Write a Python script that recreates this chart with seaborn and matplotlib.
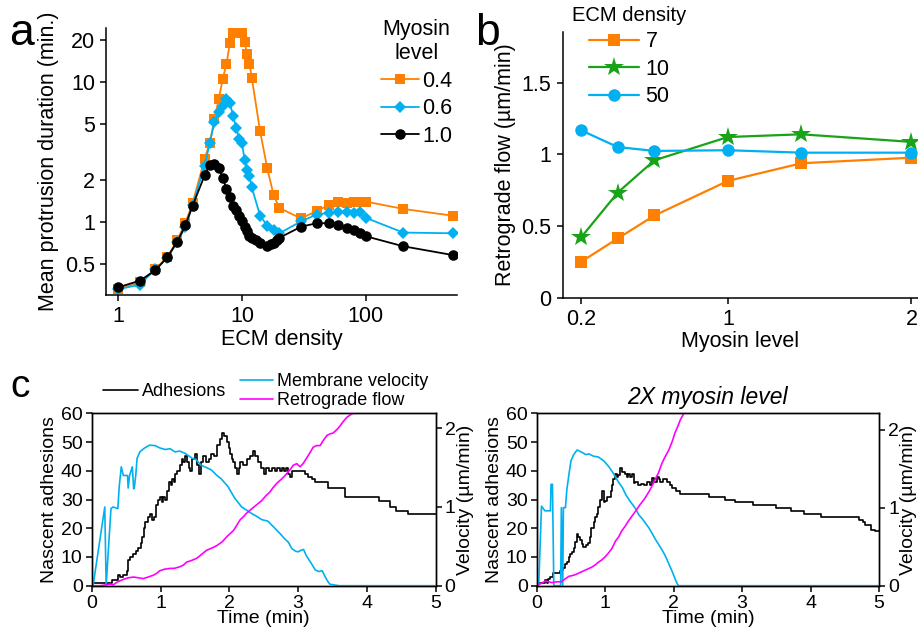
import matplotlib
matplotlib.use("Agg")
import matplotlib.pyplot as plt
import seaborn as sns

# ---- panel a: mean protrusion duration vs ECM density ----
ecm_a = [1, 1.5, 2, 2.5, 3, 3.5, 4, 5, 5.5, 6, 6.5, 7, 7.5, 8, 8.5, 9, 9.5, 10,
         10.5, 11, 11.5, 12, 14, 16, 18, 20, 30, 40, 50, 60, 70, 80, 90, 100, 200, 500]
dur_04 = [0.33, 0.37, 0.46, 0.56, 0.74, 0.99, 1.37, 2.83, 3.7, 5.5, 7.6, 10.6, 13.6, 19.2,
          22.7, 23.5, 23.8, 22.5, 19.5, 16.0, 13.5, 10.8, 4.47, 2.42, 1.56, 1.26, 1.06, 1.2,
          1.32, 1.40, 1.36, 1.38, 1.40, 1.40, 1.24, 1.11]
dur_06 = [0.33, 0.355, 0.46, 0.55, 0.72, 0.92, 1.33, 2.53, 3.68, 5.18, 6.1, 6.8, 7.6, 7.07,
          5.7, 4.72, 3.94, 3.65, 2.8, 2.34, 2.12, 1.77, 1.11, 0.94, 0.87, 0.83, 1.01, 1.13,
          1.16, 1.17, 1.18, 1.16, 1.18, 1.07, 0.84, 0.83]
ecm_a_10 = [1, 1.5, 2, 2.5, 3, 3.5, 4, 5, 5.5, 6, 6.5, 7, 7.5, 8, 8.5, 9, 9.5, 10, 10.5,
            11, 11.5, 12, 13, 14, 16, 17, 18, 19, 20, 30, 40, 50, 60, 70, 80, 90, 100, 200, 500]
dur_10 = [0.34, 0.38, 0.45, 0.56, 0.72, 0.95, 1.31, 2.16, 2.55, 2.62, 2.44, 2.07, 1.72, 1.51,
          1.31, 1.22, 1.10, 1.01, 0.92, 0.86, 0.80, 0.77, 0.74, 0.71, 0.675, 0.69, 0.71, 0.74,
          0.77, 0.925, 0.98, 0.98, 0.95, 0.91, 0.87, 0.83, 0.79, 0.67, 0.58]

# ---- panel b: retrograde flow vs myosin level ----
myosin_b = [0.2, 0.4, 0.6, 1.0, 1.4, 2.0]
flow_7 = [0.25, 0.413, 0.573, 0.814, 0.937, 0.976]
flow_10 = [0.42, 0.733, 0.958, 1.12, 1.139, 1.086]
flow_50 = [1.167, 1.05, 1.023, 1.028, 1.011, 1.011]

# ---- panel c (left): normal myosin ----
adh1_t = [0, 0.3, 0.34, 0.38, 0.41, 0.46, 0.51, 0.53, 0.56, 0.6, 0.64, 0.68, 0.71, 0.73,
          0.76, 0.78, 0.82, 0.85, 0.88, 0.9, 0.94, 0.97, 0.99, 1.02, 1.04, 1.07, 1.09, 1.12,
          1.15, 1.17, 1.19, 1.21, 1.24, 1.28, 1.31, 1.33, 1.36, 1.38, 1.41, 1.43, 1.46, 1.5,
          1.53, 1.56, 1.59, 1.62, 1.66, 1.7, 1.74, 1.78, 1.82, 1.86, 1.9, 1.93, 1.96, 1.99,
          2.01, 2.04, 2.06, 2.09, 2.11, 2.14, 2.16, 2.2, 2.25, 2.3, 2.35, 2.38, 2.42, 2.46,
          2.5, 2.54, 2.58, 2.62, 2.66, 2.69, 2.73, 2.77, 2.8, 2.83, 2.86, 2.88, 2.91, 2.93,
          3.1, 3.15, 3.2, 3.25, 3.44, 3.68, 4.17, 4.34, 4.43, 4.6, 5.0]
adh1_n = [1, 2, 2, 3.7, 3, 3.7, 5, 9, 10, 11, 12, 13, 15, 17,
          20, 22, 24, 25, 23, 24, 28, 30, 31, 29, 31, 30, 33, 36,
          35, 37, 36, 39, 40, 42, 44, 43, 45, 43, 41, 40, 44, 46,
          42, 39, 43, 45, 43, 44, 46, 45, 49, 51, 53, 52, 50, 48,
          46, 44, 43, 41, 39, 41, 43, 42, 44, 45, 47, 45, 43, 41,
          39, 41, 40, 41, 40, 41, 40, 41, 40, 41, 39, 38, 40, 40,
          39, 38, 37, 36, 34, 31, 29.5, 27.5, 26, 25, 25]
vel1_t = [0, 0.02, 0.19, 0.21, 0.28, 0.31, 0.38, 0.40, 0.43, 0.46, 0.52, 0.53, 0.55, 0.59,
          0.61, 0.62, 0.64, 0.66, 0.70, 0.77, 0.84, 0.92, 0.99, 1.07, 1.14, 1.21, 1.28, 1.36,
          1.46, 1.52, 1.59, 1.67, 1.74, 1.82, 1.88, 1.98, 2.08, 2.18, 2.25, 2.32, 2.40, 2.47,
          2.56, 2.64, 2.74, 2.80, 2.86, 2.91, 2.96, 3.0, 3.04, 3.08, 3.12, 3.18, 3.25, 3.30,
          3.35, 3.39, 3.42, 3.46, 3.52, 3.6, 5.0]
vel1_v = [0, 0, 1.0, 0, 0.98, 1.0, 0.98, 1.26, 1.51, 1.40, 1.40, 1.24, 1.40, 1.51,
          1.23, 1.25, 1.40, 1.62, 1.70, 1.75, 1.785, 1.78, 1.75, 1.73, 1.74, 1.70, 1.71, 1.68,
          1.62, 1.60, 1.53, 1.50, 1.47, 1.40, 1.36, 1.26, 1.11, 1.0, 0.96, 0.92, 0.88, 0.84,
          0.82, 0.75, 0.66, 0.60, 0.55, 0.47, 0.44, 0.43, 0.45, 0.46, 0.38, 0.30, 0.2, 0.18,
          0.19, 0.12, 0.07, 0.02, 0.01, 0, 0]
retro1_t = [0, 0.12, 0.2, 0.27, 0.31, 0.38, 0.46, 0.53, 0.61, 0.68, 0.75, 0.82, 0.9, 0.95,
            0.99, 1.06, 1.14, 1.2, 1.28, 1.33, 1.38, 1.45, 1.53, 1.6, 1.67, 1.75, 1.82, 1.9,
            1.96, 2.01, 2.06, 2.11, 2.16, 2.21, 2.25, 2.33, 2.4, 2.47, 2.54, 2.59, 2.64, 2.69,
            2.74, 2.79, 2.83, 2.88, 2.93, 2.98, 3.03, 3.08, 3.13, 3.18, 3.22, 3.27, 3.32, 3.37,
            3.42, 3.47, 3.51, 3.56, 3.61, 3.66, 3.71, 3.76, 3.8, 3.9]
retro1_v = [0, 0, 0.01, 0.02, 0.01, 0.05, 0.08, 0.1, 0.11, 0.1, 0.09, 0.11, 0.135, 0.16,
            0.19, 0.21, 0.22, 0.22, 0.24, 0.26, 0.3, 0.32, 0.35, 0.4, 0.45, 0.48, 0.51, 0.56,
            0.62, 0.66, 0.70, 0.77, 0.84, 0.88, 0.92, 0.98, 1.03, 1.08, 1.15, 1.19, 1.25, 1.3,
            1.34, 1.38, 1.42, 1.47, 1.53, 1.55, 1.51, 1.56, 1.63, 1.70, 1.76, 1.78, 1.78, 1.85,
            1.91, 1.93, 1.94, 1.98, 2.03, 2.09, 2.14, 2.17, 2.19, 2.3]

# ---- panel c (right): 2X myosin ----
adh2_t = [0, 0.12, 0.15, 0.17, 0.2, 0.24, 0.34, 0.37, 0.39, 0.42, 0.44, 0.47, 0.49, 0.51,
          0.54, 0.56, 0.59, 0.61, 0.63, 0.66, 0.68, 0.72, 0.75, 0.78, 0.8, 0.83, 0.85, 0.88,
          0.9, 0.93, 0.95, 0.98, 1.0, 1.03, 1.05, 1.08, 1.1, 1.12, 1.14, 1.17, 1.19, 1.22,
          1.25, 1.29, 1.32, 1.34, 1.37, 1.39, 1.42, 1.44, 1.48, 1.53, 1.57, 1.61, 1.65, 1.68,
          1.72, 1.75, 1.78, 1.8, 1.84, 1.9, 1.94, 1.97, 2.03, 2.09, 2.51, 2.75, 2.9, 3.16,
          3.5, 3.72, 3.9, 4.15, 4.71, 4.76, 4.8, 4.88, 4.94, 5.0]
adh2_n = [1, 2, 1, 2.5, 3, 4.3, 5, 5.5, 6, 7.5, 8.4, 10, 11, 11.8,
          13, 15.3, 18, 17, 15.9, 14.5, 13.6, 14, 14.7, 17, 20, 22, 24, 25,
          27.5, 30, 33, 29, 29.5, 31, 31, 33, 35, 37, 39, 38, 38.5, 41,
          39.5, 39, 38, 39, 38, 39, 35.6, 36, 35, 35.5, 35, 36, 35, 37.4,
          36, 38, 37, 36.2, 37, 36.2, 35, 34, 33, 32, 31, 30, 29, 28,
          27, 26, 25, 24, 23, 22, 21, 19.5, 19, 19]
vel2_t = [0, 0.03, 0.07, 0.12, 0.2, 0.21, 0.23, 0.25, 0.35, 0.36, 0.38, 0.39, 0.42, 0.44,
          0.47, 0.5, 0.54, 0.59, 0.66, 0.72, 0.76, 0.83, 0.9, 0.98, 1.05, 1.12, 1.2, 1.25,
          1.3, 1.35, 1.4, 1.45, 1.49, 1.54, 1.59, 1.64, 1.68, 1.73, 1.78, 1.83, 1.88, 1.93,
          1.98, 2.02, 2.05, 2.07, 5.0]
vel2_v = [0, 0.01, 1.02, 0.96, 0.96, 1.3, 1.3, 0, 0, 1.0, 0, 1.0, 1.0, 1.23,
          1.42, 1.6, 1.68, 1.74, 1.71, 1.68, 1.69, 1.66, 1.65, 1.6, 1.53, 1.44, 1.32, 1.26,
          1.17, 1.1, 1.04, 0.98, 0.91, 0.86, 0.8, 0.74, 0.68, 0.6, 0.53, 0.46, 0.38, 0.28,
          0.18, 0.09, 0.03, 0, 0]
retro2_t = [0, 0.13, 0.22, 0.3, 0.36, 0.42, 0.47, 0.52, 0.56, 0.61, 0.66, 0.71, 0.76, 0.81,
            0.86, 0.9, 0.95, 1.0, 1.05, 1.1, 1.15, 1.2, 1.24, 1.29, 1.34, 1.39, 1.44, 1.51,
            1.58, 1.65, 1.73, 1.78, 1.83, 1.88, 1.93, 1.98, 2.02, 2.06, 2.1, 2.15, 2.25]
retro2_v = [0, 0.06, 0.04, 0.05, 0.05, 0.09, 0.12, 0.13, 0.14, 0.16, 0.18, 0.2, 0.22, 0.24,
            0.27, 0.3, 0.33, 0.37, 0.42, 0.48, 0.57, 0.63, 0.7, 0.76, 0.83, 0.89, 0.95, 1.04,
            1.12, 1.22, 1.36, 1.45, 1.57, 1.66, 1.74, 1.85, 1.96, 2.04, 2.13, 2.21, 2.4]

ORANGE = "#ff8000"
CYAN = "#00b0f0"
GREEN = "#19a319"
MAGENTA = "#ff00ff"

sns.set_style("ticks")
plt.rcParams["font.family"] = ["Liberation Sans", "DejaVu Sans"]
plt.rcParams.update({
    "axes.linewidth": 1.1,
    "xtick.major.width": 1.1, "ytick.major.width": 1.1,
    "xtick.major.size": 4.5, "ytick.major.size": 4.5,
    "xtick.color": "black", "ytick.color": "black",
    "axes.edgecolor": "black", "text.color": "black", "axes.labelcolor": "black",
})

W, H = 918, 634
fig = plt.figure(figsize=(W / 100, H / 100), dpi=100)


def box(l, t, r, b):
    return [l / W, 1 - b / H, (r - l) / W, (b - t) / H]


# ----------------- panel a -----------------
ax_a = fig.add_axes(box(106, 28, 456.7, 295))
ax_a.set_xscale("log")
ax_a.set_yscale("log")
sns.lineplot(x=ecm_a, y=dur_04, ax=ax_a, color=ORANGE, marker="s", markersize=6.6,
             markeredgewidth=0, lw=1.3, label="0.4", estimator=None, sort=False)
sns.lineplot(x=ecm_a, y=dur_06, ax=ax_a, color=CYAN, marker="D", markersize=6.4,
             markeredgewidth=0, lw=1.3, label="0.6", estimator=None, sort=False)
sns.lineplot(x=ecm_a_10, y=dur_10, ax=ax_a, color="black", marker="o", markersize=7.6,
             markeredgewidth=0, lw=1.3, label="1.0", estimator=None, sort=False)
ax_a.set_xlim(0.8, 540)
ax_a.set_ylim(0.3, 24.5)
ax_a.set_xticks([1, 10, 100], ["1", "10", "100"])
ax_a.set_yticks([0.5, 1, 2, 5, 10, 20], ["0.5", "1", "2", "5", "10", "20"])
ax_a.minorticks_off()
ax_a.tick_params(labelsize=15.5)
ax_a.set_xlabel("ECM density", fontsize=15.5, labelpad=1)
ax_a.set_ylabel("Mean protrusion duration (min.)", fontsize=15.5, labelpad=4)
sns.despine(ax=ax_a)
leg_a = ax_a.legend(title="Myosin\nlevel", loc="upper left",
                    bbox_to_anchor=(381 / W, 1 - 19 / H), bbox_transform=fig.transFigure,
                    frameon=False, fontsize=15.5, title_fontsize=15.5, handlelength=1.75,
                    handletextpad=0.15, labelspacing=0.3, borderpad=0, borderaxespad=0)
leg_a.get_title().set_multialignment("center")

# ----------------- panel b -----------------
ax_b = fig.add_axes(box(562.7, 32.3, 918, 297.7))
sns.lineplot(x=myosin_b, y=flow_7, ax=ax_b, color=ORANGE, marker="s", markersize=8.5,
             markeredgewidth=0, lw=1.6, label="7", estimator=None, sort=False)
sns.lineplot(x=myosin_b, y=flow_10, ax=ax_b, color=GREEN, marker="*", markersize=15,
             markeredgewidth=0, lw=1.6, label="10", estimator=None, sort=False)
sns.lineplot(x=myosin_b, y=flow_50, ax=ax_b, color=CYAN, marker="o", markersize=9,
             markeredgewidth=0, lw=1.6, label="50", estimator=None, sort=False)
ax_b.set_xlim(0.1, 2.036)
ax_b.set_ylim(0, 1.85)
ax_b.set_xticks([0.2, 1, 2], ["0.2", "1", "2"])
ax_b.set_yticks([0, 0.5, 1, 1.5], ["0", "0.5", "1", "1.5"])
ax_b.tick_params(labelsize=15.5)
ax_b.set_xlabel("Myosin level", fontsize=15.5, labelpad=1)
ax_b.set_ylabel("Retrograde flow (\u00b5m/min)", fontsize=15.5, labelpad=4)
sns.despine(ax=ax_b)
ax_b.legend(title="ECM density", loc="upper left",
            bbox_to_anchor=(572 / W, 1 - 6 / H), bbox_transform=fig.transFigure,
            frameon=False, fontsize=15.5, title_fontsize=14.5, handlelength=2.35,
            handletextpad=0.3, labelspacing=0.3, borderpad=0, borderaxespad=0)

# ----------------- panel c -----------------
def trace_panel(ax, adh_t, adh_n, vel_t, vel_v, ret_t, ret_v, vtop):
    sns.lineplot(x=adh_t, y=adh_n, ax=ax, color="black", lw=1.2,
                 drawstyle="steps-post", estimator=None, sort=False)
    ax.set_xlim(0, 5)
    ax.set_ylim(0, 60)
    ax.set_xticks(range(0, 6))
    ax.set_yticks(range(0, 61, 10))
    ax.tick_params(labelsize=14, pad=2)
    ax.set_xlabel("Time (min)", fontsize=14, labelpad=-1)
    ax.set_ylabel("Nascent adhesions", fontsize=14, labelpad=2)
    axr = ax.twinx()
    sns.lineplot(x=vel_t, y=vel_v, ax=axr, color=CYAN, lw=1.2, estimator=None, sort=False)
    sns.lineplot(x=ret_t, y=ret_v, ax=axr, color=MAGENTA, lw=1.2, estimator=None, sort=False)
    axr.set_ylim(0, vtop)
    axr.set_yticks([0, 1, 2])
    axr.tick_params(labelsize=14, pad=2)
    axr.set_ylabel("Velocity (\u00b5m/min)", fontsize=14, labelpad=1)
    for a in (ax, axr):
        for s in a.spines.values():
            s.set_visible(True)
            s.set_linewidth(1.0)
    return axr


ax_c1 = fig.add_axes(box(91.7, 413.3, 435.7, 585.7))
ax_c1r = trace_panel(ax_c1, adh1_t, adh1_n, vel1_t, vel1_v, retro1_t, retro1_v, 2.19)
ax_c2 = fig.add_axes(box(536.7, 413.3, 879, 585.7))
ax_c2r = trace_panel(ax_c2, adh2_t, adh2_n, vel2_t, vel2_v, retro2_t, retro2_v, 2.21)
ax_c2.set_title("2X myosin level", fontsize=16.5, style="italic", pad=7)

h_adh = ax_c1.get_lines()[0]
h_vel, h_ret = ax_c1r.get_lines()[:2]
fig.legend([h_adh], ["Adhesions"], loc="center left",
           bbox_to_anchor=(103 / W, 1 - 392 / H), frameon=False, fontsize=13,
           handlelength=1.95, handletextpad=0.2, borderpad=0, borderaxespad=0)
fig.legend([h_vel, h_ret], ["Membrane velocity", "Retrograde flow"], loc="center left",
           bbox_to_anchor=(240 / W, 1 - 391 / H), frameon=False, fontsize=13,
           handlelength=1.8, handletextpad=0.25, labelspacing=0.1, borderpad=0,
           borderaxespad=0)

# panel letters
fig.text(9 / W, 1 - 45 / H, "a", fontsize=32, va="baseline")
fig.text(475 / W, 1 - 45 / H, "b", fontsize=32, va="baseline")
fig.text(10 / W, 1 - 397 / H, "c", fontsize=28, va="baseline")

fig.savefig("out.png", dpi=100)
